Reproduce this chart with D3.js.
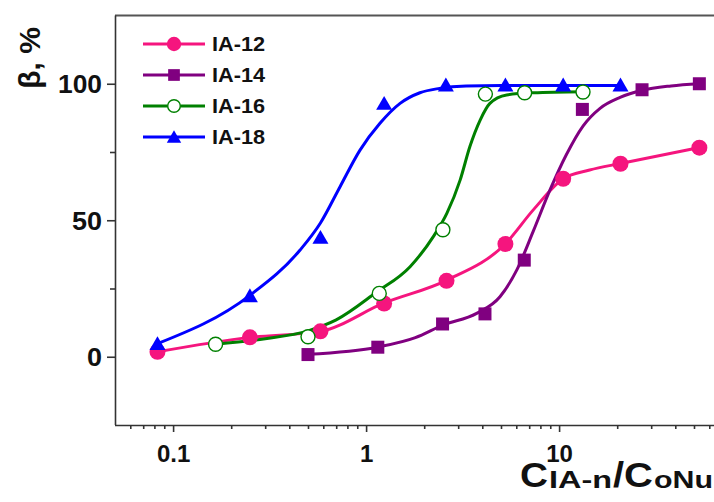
<!DOCTYPE html>
<html><head><meta charset="utf-8">
<script src="https://cdn.jsdelivr.net/npm/d3@7"></script>
<style>body{margin:0;background:#fff}svg{display:block}</style>
</head><body><svg id="c" width="714" height="502"></svg>
<script>
const seriesNames = ["IA-12", "IA-14", "IA-16", "IA-18"];
const x12 = [0.083, 0.25, 0.58, 1.24, 2.61, 5.27, 10.5, 20.8, 53.3];
const y12 = [1.8, 7.1, 9.3, 19.5, 27.8, 41.3, 65.2, 70.7, 76.6];
const x14 = [0.50, 1.15, 2.49, 4.13, 6.6, 13.2, 26.9, 53.3];
const y14 = [0.8, 3.5, 12.0, 15.7, 35.4, 90.6, 97.8, 100.0];
const x16 = [0.166, 0.50, 1.17, 2.50, 4.15, 6.63, 13.3];
const y16 = [4.6, 7.3, 23.2, 46.5, 96.2, 96.7, 97.0];
const x18 = [0.083, 0.25, 0.58, 1.24, 2.59, 5.27, 10.5, 20.8];
const y18 = [4.8, 22.3, 43.7, 92.8, 99.5, 99.5, 99.5, 99.5];

// ---- fitted curves as drawn in the picture (read at sample positions) ----
const fitX12 = [0.083, 0.25, 0.58, 1.24, 2.61, 5.27, 7.35, 10.5, 14.4, 20.8, 53.3];
const fitY12 = [1.8, 7.1, 9.3, 19.7, 28.0, 41.4, 53.8, 65.2, 68.4, 70.8, 76.6];
const fitX14 = [0.50, 1.16, 1.8, 2.5, 3.74, 4.94, 6.04, 7.35, 8.96, 10.9, 13.3, 16.3, 20.7, 26.9, 38, 53.3];
const fitY14 = [0.9, 3.6, 7.0, 11.6, 15.9, 22.0, 31.8, 46.0, 61.0, 74.0, 84.5, 91.0, 95.0, 97.6, 99.2, 100.0];
const fitX16 = [0.166, 0.3, 0.5, 0.7, 1.13, 1.69, 2.23, 2.62, 3.07, 3.45, 3.9, 4.38, 5.35, 7.35, 13.3];
const fitY16 = [4.6, 6.6, 9.5, 13.5, 23.6, 33.0, 44.0, 52.5, 64.7, 77.0, 86.7, 92.8, 95.9, 96.7, 97.1];
const fitX18 = [0.083, 0.25, 0.455, 0.58, 0.733, 0.93, 1.18, 1.5, 1.9, 2.4, 3.3, 5.0, 20.8];
const fitY18 = [4.8, 22.5, 39.1, 49.0, 62.3, 75.7, 85.5, 92.8, 96.7, 98.3, 99.2, 99.4, 99.4];

const xMajorTicks = [0.1, 1, 10];
const xTickLabels = ["0.1", "1", "10"];
const yMajorTicks = [0, 50, 100];
const yMinorTicks = [25, 75];

const colors = ["#f5157e", "#800080", "#008000", "#0000ff"];
const shapes = ["circle", "square", "open", "triangle"];
const xs = [x12, x14, x16, x18], ys = [y12, y14, y16, y18];
const fxs = [fitX12, fitX14, fitX16, fitX18], fys = [fitY12, fitY14, fitY16, fitY18];

const svg = d3.select("#c");
const pLeft = 115, pTop = 15.5, pBottom = 425;
const x = d3.scaleLog().domain([0.05, 100]).range([pLeft, pLeft + 193 * Math.log10(2000)]);
const y = d3.scaleLinear().domain([-25, 125]).range([pBottom, pTop]);

const font = "'Liberation Sans', Arial, sans-serif";

// frame line on top
svg.append("line").attr("x1", pLeft).attr("x2", 714).attr("y1", pTop).attr("y2", pTop)
  .attr("stroke", "#555").attr("stroke-width", 2);

// x axis
const xMinor = [];
[0.01, 0.1, 1, 10].forEach(d => { for (let k = 2; k <= 9; k++) { const v = d * k; if (v > 0.05 && v < 100) xMinor.push(v); } });
const gx = svg.append("g").attr("transform", `translate(0,${pBottom})`);
gx.call(d3.axisBottom(x).tickValues(xMajorTicks).tickSize(7).tickSizeOuter(0)
  .tickFormat((d, i) => xTickLabels[i]));
const gxm = svg.append("g").attr("transform", `translate(0,${pBottom})`);
gxm.call(d3.axisBottom(x).tickValues(xMinor).tickSize(4).tickSizeOuter(0).tickFormat(""));
gxm.select(".domain").remove();
gx.select(".domain").attr("d", `M${pLeft},0.5H714`);

// y axis
const gy = svg.append("g").attr("transform", `translate(${pLeft},0)`);
gy.call(d3.axisLeft(y).tickValues(yMajorTicks).tickSize(8).tickSizeOuter(0).tickFormat(d3.format("d")));
const gym = svg.append("g").attr("transform", `translate(${pLeft},0)`);
gym.call(d3.axisLeft(y).tickValues(yMinorTicks).tickSize(5).tickSizeOuter(0).tickFormat(""));
gym.select(".domain").remove();
gy.select(".domain").attr("d", `M0.5,${pTop}V${pBottom}`);

svg.selectAll(".domain, .tick line").attr("stroke", "#333").attr("stroke-width", 1.6);
gx.selectAll(".tick text").attr("font-family", font).attr("font-weight", "bold")
  .attr("font-size", 24).attr("fill", "#111").attr("dy", "1.12em");
gy.selectAll(".tick text").attr("font-family", font).attr("font-weight", "bold")
  .attr("font-size", 25).attr("fill", "#111").attr("x", -13).attr("dy", "0.36em")
  .attr("textLength", 44).attr("lengthAdjust", "spacingAndGlyphs")
  .each(function (d) { if (d === 0) d3.select(this).attr("textLength", 15); else if (d === 50) d3.select(this).attr("textLength", 30); });

// fitted curves
const line = d3.line().x(d => x(d[0])).y(d => y(d[1])).curve(d3.curveMonotoneX);
seriesNames.forEach((n, i) => {
  const pts = fxs[i].map((v, j) => [v, fys[i][j]]);
  svg.append("path").attr("d", line(pts)).attr("fill", "none")
    .attr("stroke", colors[i]).attr("stroke-width", 3);
});

function marker(g, shape, color, cx, cy, s) {
  if (shape === "circle") g.append("circle").attr("cx", cx).attr("cy", cy).attr("r", 8 * s).attr("fill", color);
  else if (shape === "open") g.append("circle").attr("cx", cx).attr("cy", cy).attr("r", 7 * s)
    .attr("fill", "#fff").attr("stroke", color).attr("stroke-width", 1.4);
  else if (shape === "square") g.append("rect").attr("x", cx - 6.5 * s).attr("y", cy - 6.5 * s)
    .attr("width", 13 * s).attr("height", 13 * s).attr("fill", color);
  else {
    const w = 8 * s, h = 7.5 * s;
    g.append("path").attr("d", `M${cx},${cy - h}L${cx + w},${cy + h * 0.85}L${cx - w},${cy + h * 0.85}Z`).attr("fill", color);
  }
}

seriesNames.forEach((n, i) => {
  const g = svg.append("g");
  xs[i].forEach((v, j) => marker(g, shapes[i], colors[i], x(v), y(ys[i][j]), 1));
});

// legend
seriesNames.forEach((n, i) => {
  const ly = 44 + i * 31;
  svg.append("line").attr("x1", 143).attr("x2", 205).attr("y1", ly).attr("y2", ly)
    .attr("stroke", colors[i]).attr("stroke-width", 3);
  marker(svg, shapes[i], colors[i], 174, ly, 0.9);
  svg.append("text").attr("x", 212).attr("y", ly).attr("dy", "0.36em")
    .attr("font-family", font).attr("font-weight", "bold").attr("font-size", 20)
    .attr("fill", "#111").attr("textLength", 53).attr("lengthAdjust", "spacingAndGlyphs").text(n);
});

// axis titles
svg.append("text").attr("transform", "translate(40,58) rotate(-90)")
  .attr("text-anchor", "middle").attr("font-family", font).attr("font-weight", "bold")
  .attr("font-size", 30).attr("fill", "#111").text("β, %");

const titleParts = [
  { t: "C", x0: 520, x1: 548, fs: 35, dy: 0 },
  { t: "IA-n", x0: 549, x1: 612, fs: 24, dy: 1 },
  { t: "/C", x0: 613, x1: 653, fs: 35, dy: 0 },
  { t: "oNu", x0: 654, x1: 713, fs: 24, dy: 1 }
];
titleParts.forEach(p => {
  svg.append("text").attr("x", p.x0).attr("y", 487 + p.dy)
    .attr("font-family", font).attr("font-weight", "bold").attr("font-size", p.fs)
    .attr("fill", "#111").attr("textLength", p.x1 - p.x0).attr("lengthAdjust", "spacingAndGlyphs")
    .text(p.t);
});
</script></body></html>
